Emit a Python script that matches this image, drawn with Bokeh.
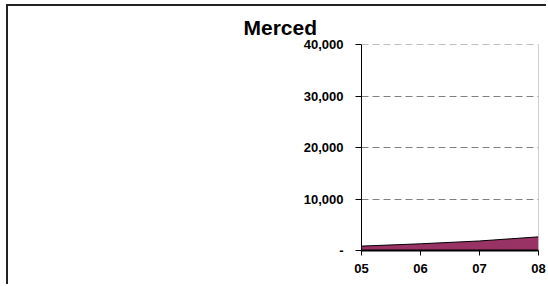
from bokeh.plotting import figure
from bokeh.models import Range1d, FixedTicker, NumeralTickFormatter, Span, ColumnDataSource
from bokeh.embed import file_html
from bokeh.resources import INLINE

# data
years = ["05", "06", "07", "08"]
values = [850, 1300, 1850, 2650]
y_ticks = [0, 10000, 20000, 30000, 40000]
y_max = 40000

xs = list(range(len(years)))
src = ColumnDataSource(dict(x=xs, y=values, base=[0] * len(xs)))

p = figure(width=540, height=280, output_backend="svg", toolbar_location=None,
           x_range=Range1d(0, len(years) - 1), y_range=Range1d(0, y_max),
           min_border_left=353, min_border_right=10, min_border_top=38, min_border_bottom=36)

p.styles = {"border-top": "2px solid #222", "border-left": "2px solid #222",
            "margin-top": "4px", "margin-left": "6px"}

p.title.text = "Merced"
p.title.text_font = "Liberation Sans"
p.title.text_font_size = "21px"
p.title.text_font_style = "bold"
p.title.text_color = "black"
p.title.align = "left"
p.title.offset = -118
p.title.standoff = 12

p.outline_line_color = None
p.background_fill_color = "white"
p.border_fill_color = "white"

p.varea(x="x", y1="base", y2="y", source=src, fill_color="#993366")
p.line(x="x", y="y", source=src, line_color="black", line_width=1)

# right border of plot area and top gridline
p.add_layout(Span(location=len(years) - 1, dimension="height", line_color="#a0a0a0", line_width=1))
p.add_layout(Span(location=y_max, dimension="width", line_color="#808080", line_width=1, line_dash="7 4"))

# grid
p.xgrid.visible = False
p.ygrid.ticker = FixedTicker(ticks=y_ticks[1:])
p.ygrid.grid_line_color = "#808080"
p.ygrid.grid_line_dash = "7 4"
p.ygrid.grid_line_width = 1

# y axis
ya = p.yaxis[0]
ya.ticker = FixedTicker(ticks=y_ticks)
ya.formatter = NumeralTickFormatter(format="0,0")
ya.major_label_overrides = {0: "-"}
ya.major_label_text_font = "Liberation Sans"
ya.major_label_text_font_size = "13px"
ya.major_label_text_font_style = "bold"
ya.major_label_text_color = "black"
ya.major_tick_out = 6
ya.major_tick_in = 0
ya.minor_tick_line_color = None
ya.major_label_standoff = 12
ya.axis_line_color = "black"
ya.major_tick_line_color = "black"

# x axis
xa = p.xaxis[0]
xa.ticker = FixedTicker(ticks=xs)
xa.major_label_overrides = {i: y for i, y in enumerate(years)}
xa.major_label_text_font = "Liberation Sans"
xa.major_label_text_font_size = "13px"
xa.major_label_text_font_style = "bold"
xa.major_label_text_color = "black"
xa.major_tick_out = 5
xa.major_tick_in = 0
xa.minor_tick_line_color = None
xa.major_label_standoff = 8
xa.axis_line_color = "black"
xa.axis_line_width = 2
xa.major_tick_line_color = "black"

open("out.html", "w").write(file_html(p, INLINE))
